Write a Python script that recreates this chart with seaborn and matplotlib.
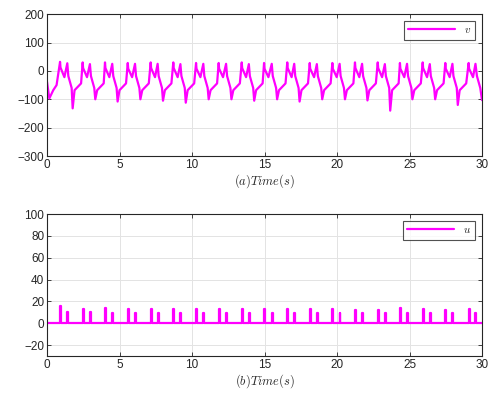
import numpy as np
import pandas as pd
import matplotlib
matplotlib.use("Agg")
import matplotlib.pyplot as plt
import seaborn as sns

# ---- data ----
# times of the first and second impulse of each cycle (s)
spike_t1 = [0.90, 2.46, 4.00, 5.57, 7.15, 8.71, 10.28, 11.84, 13.43, 14.97,
            16.57, 18.12, 19.68, 21.24, 22.81, 24.34, 25.91, 27.47, 29.08]
spike_t2 = [1.40, 2.96, 4.50, 6.07, 7.63, 9.20, 10.78, 12.35, 13.92, 15.50,
            17.05, 18.61, 20.18, 21.73, 23.30, 24.83, 26.40, 27.96, 29.55]
# impulse heights of u
u_h1 = [15.6, 13.4, 13.8, 12.8, 12.8, 13.4, 12.8, 12.8, 13.1, 12.8,
        13.5, 13.5, 12.8, 12.2, 12.2, 13.8, 12.8, 12.5, 12.8]
u_h2 = [10.4, 10.4, 9.5, 9.2, 9.5, 9.8, 9.2, 9.5, 9.2, 9.5,
        9.8, 9.5, 9.2, 9.5, 9.5, 9.8, 9.5, 9.5, 9.2]
# v: peak values at the impulses, dip between them, and trough after
v_p1 = [32, 30, 30, 28, 30, 30, 28, 28, 30, 28, 30, 28, 28, 30, 30, 28, 30, 28, 28]
v_p2 = [27, 24, 25, 25, 25, 24, 25, 25, 24, 25, 25, 24, 25, 25, 24, 25, 24, 25, 25]
v_dip = [-22, -22, -22, -22, -22, -22, -22, -22, -22, -22,
         -22, -22, -22, -22, -22, -22, -22, -22, -22]
v_trough = [-132, -100, -108, -100, -105, -112, -100, -100, -105, -100,
            -108, -100, -100, -104, -140, -100, -100, -120, -100]
# start and end of v
v_start_t = [0.0, 0.16, 0.43, 0.66]
v_start_v = [-38, -97, -68, -50]
v_end_t = [29.65, 29.88, 30.0]
v_end_v = [-18, -60, -103]

# typical within-cycle shape read from one cycle (time offset from spike_t2, value)
after_t = [0.07, 0.30, 0.37, 0.50, 0.72, 0.95]
after_v = [-18, -60, None, -68, -56, -44]

# ---- build series ----
vt, vv = list(v_start_t), list(v_start_v)
for k in range(len(spike_t1)):
    t1, t2 = spike_t1[k], spike_t2[k]
    vt += [t1, t1 + 0.03, t1 + 0.30, t2]
    vv += [v_p1[k], v_p1[k] - 20, v_dip[k], v_p2[k]]
    if k < len(spike_t1) - 1:
        for dt, val in zip(after_t, after_v):
            vt.append(t2 + dt)
            vv.append(v_trough[k] if val is None else val)
vt += v_end_t
vv += v_end_v
df_v = pd.DataFrame({"t": vt, "v": vv, "s": np.arange(len(vt))})

ut, uv = [0.0], [0.0]
w = 0.06
for k in range(len(spike_t1)):
    for t, h in ((spike_t1[k], u_h1[k]), (spike_t2[k], u_h2[k])):
        ut += [t, t, t + w, t + w]
        uv += [0, h, h, 0]
ut.append(30.0)
uv.append(0.0)
df_u = pd.DataFrame({"t": ut, "u": uv})

# ---- plot ----
sns.set_theme(style="whitegrid")
plt.rcParams["font.family"] = ["Liberation Sans", "DejaVu Sans"]
plt.rcParams["mathtext.fontset"] = "cm"

fig = plt.figure(figsize=(5.0, 3.94), dpi=100)
ax1 = fig.add_axes([0.094, 0.604, 0.870, 0.360])
ax2 = fig.add_axes([0.094, 0.0965, 0.870, 0.360])

mag = "#FF00FF"
sns.lineplot(data=df_v, x="t", y="v", ax=ax1, color=mag, lw=1.6,
             estimator=None, sort=False, label=r"$v$")
sns.lineplot(data=df_u, x="t", y="u", ax=ax2, color=mag, lw=1.6,
             estimator=None, sort=False, label=r"$u$")

for ax, ylim, yt, xl in ((ax1, (-300, 200), np.arange(-300, 201, 100), r"$(a)Time(s)$"),
                         (ax2, (-30, 100), np.arange(-20, 101, 20), r"$(b)Time(s)$")):
    ax.set_xlim(0, 30)
    ax.set_ylim(*ylim)
    ax.set_xticks(np.arange(0, 31, 5))
    ax.set_yticks(yt)
    ax.set_xlabel(xl, fontsize=9, labelpad=1)
    ax.set_ylabel("")
    ax.set_facecolor("white")
    ax.grid(True, color="#e3e3e3", lw=0.7)
    for sp in ax.spines.values():
        sp.set_color("#262626")
        sp.set_linewidth(0.8)
    ax.tick_params(axis="both", direction="in", length=3, width=0.6,
                   labelsize=8.5, colors="#262626", top=True, right=True,
                   bottom=True, left=True, pad=2)
    leg = ax.legend(loc="upper right", fontsize=8, handlelength=4.2,
                    frameon=True, fancybox=False, borderpad=0.4,
                    borderaxespad=0.6)
    leg.get_frame().set_edgecolor("#262626")
    leg.get_frame().set_linewidth(0.8)

fig.savefig("out.png", dpi=100)
